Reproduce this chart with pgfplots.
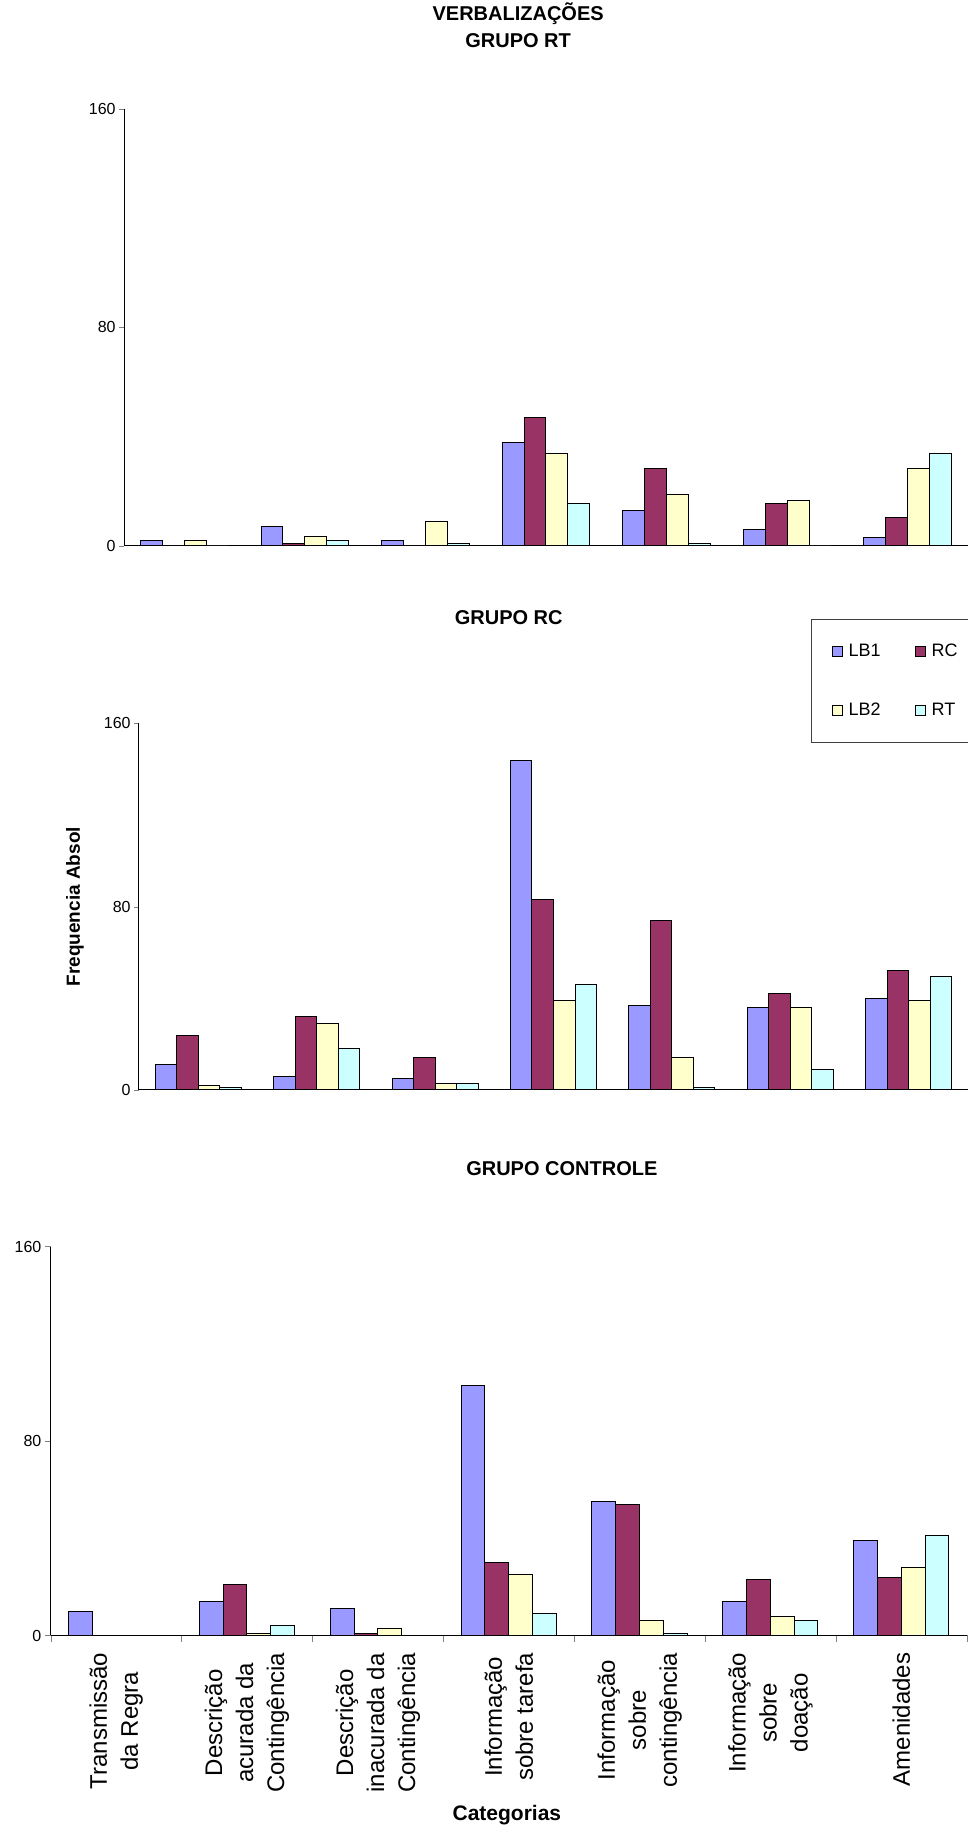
\documentclass[border=0pt]{standalone}
\usepackage{fontspec}
\setmainfont{Liberation Sans}
\usepackage{pgfplots}
\pgfplotsset{compat=1.18}
\definecolor{cLBa}{HTML}{9999FF}
\definecolor{cRC}{HTML}{993366}
\definecolor{cLBb}{HTML}{FFFFCC}
\definecolor{cRT}{HTML}{CCFFFF}
\pgfplotsset{
  base/.style={scale only axis, anchor=south west, xmin=-0.5, xmax=6.5, ymin=0, ymax=160,
    ytick={0,80,160}, yticklabels={0,80,160},
    axis x line*=bottom, axis y line*=left, axis line style={black, line width=0.5pt},
    tick align=outside, major tick length=2.5pt,
    y tick label style={font=\fontsize{8}{9.6}\selectfont, inner sep=1.5pt},
    xtick=\empty, ybar, bar width=0.1818,
    title style={anchor=center, font=\bfseries\fontsize{10}{13.4}\selectfont, align=center},
    clip=false},
  sLBa/.style={fill=cLBa, draw=black, line width=0.5pt, bar shift=-0.2727,
    legend image code/.code={\draw[fill=cLBa, draw=black, line width=0.5pt] (0pt,-2.5pt) rectangle (5pt,2.5pt);}},
  sRC/.style={fill=cRC, draw=black, line width=0.5pt, bar shift=-0.0909,
    legend image code/.code={\draw[fill=cRC, draw=black, line width=0.5pt] (0pt,-2.5pt) rectangle (5pt,2.5pt);}},
  sLBb/.style={fill=cLBb, draw=black, line width=0.5pt, bar shift=0.0909,
    legend image code/.code={\draw[fill=cLBb, draw=black, line width=0.5pt] (0pt,-2.5pt) rectangle (5pt,2.5pt);}},
  sRT/.style={fill=cRT, draw=black, line width=0.5pt, bar shift=0.2727,
    legend image code/.code={\draw[fill=cRT, draw=black, line width=0.5pt] (0pt,-2.5pt) rectangle (5pt,2.5pt);}},
}
\begin{document}
\begin{tikzpicture}
\useasboundingbox (0,0) rectangle (484pt,914pt);
% ---------- GRUPO RT ----------
\begin{axis}[base, at={(62pt,641pt)}, width=422pt, height=218.5pt,
  title={VERBALIZAÇÕES\\GRUPO RT}, title style={at={(0.467,1.1636)}}]
\addplot[sLBa] coordinates {(0,2) (1,7) (2,2) (3,38) (4,13) (5,6) (6,3)};
\addplot[sRC] coordinates {(0,0) (1,1) (2,0) (3,47) (4,28.5) (5,15.5) (6,10.5)};
\addplot[sLBb] coordinates {(0,2) (1,3.5) (2,9) (3,34) (4,19) (5,16.5) (6,28.5)};
\addplot[sRT] coordinates {(0,0) (1,2) (2,1) (3,15.5) (4,1) (5,0) (6,34)};
\end{axis}
% ---------- GRUPO RC ----------
\begin{axis}[base, at={(69.5pt,369pt)}, width=414.5pt, height=183.25pt,
  title={GRUPO RC}, title style={at={(0.446,1.255)}},
  ylabel={Frequencia Absol},
  ylabel style={at={(axis description cs:-0.0772,0.5)}, anchor=center, font=\bfseries\fontsize{9.5}{11}\selectfont},
  legend columns=2, legend cell align=left,
  legend style={at={(axis description cs:0.8106,1.285)}, anchor=north west, draw=black!75, line width=0.6pt,
    inner xsep=10pt, inner ysep=12pt, font=\fontsize{9}{10}\selectfont, row sep=22pt,
    nodes={inner sep=0pt},
    /tikz/every odd column/.append style={column sep=3pt},
    /tikz/every even column/.append style={column sep=17pt}}]
\addplot[sLBa] coordinates {(0,11) (1,6) (2,5) (3,144) (4,37) (5,36) (6,40)};
\addplot[sRC] coordinates {(0,24) (1,32) (2,14) (3,83) (4,74) (5,42) (6,52)};
\addplot[sLBb] coordinates {(0,2) (1,29) (2,3) (3,39) (4,14) (5,36) (6,39)};
\addplot[sRT] coordinates {(0,1) (1,18) (2,3) (3,46) (4,1) (5,9) (6,49.5)};
\legend{LB1,RC,LB2,RT}
\end{axis}
% ---------- GRUPO CONTROLE ----------
\begin{axis}[base, at={(25.35pt,96.25pt)}, width=458pt, height=194.4pt,
  title={GRUPO CONTROLE}, title style={at={(0.558,1.169)}},
  major tick length=3pt,
  xtick={-0.5,0.5,...,6.5}, xticklabel=\empty,
  extra x ticks={0,1,2,3,4,5,6},
  extra x tick labels={{Transmissão\\da Regra},{Descrição\\acurada da\\Contingência},{Descrição\\inacurada da\\Contingência},{Informação\\sobre tarefa},{Informação\\sobre\\contingência},{Informação\\sobre\\doação},{Amenidades}},
  extra x tick style={major tick length=0pt, xticklabel style={yshift=-8.5pt, rotate=90, anchor=east, inner sep=0pt, align=center, font=\fontsize{12}{15.5}\selectfont}},
  xlabel={Categorias},
  xlabel style={at={(axis description cs:0.498,-0.4617)}, anchor=center, font=\bfseries\fontsize{10.5}{12}\selectfont}]
\addplot[sLBa] coordinates {(0,10) (1,14) (2,11) (3,103) (4,55) (5,14) (6,39)};
\addplot[sRC] coordinates {(0,0) (1,21) (2,1) (3,30) (4,54) (5,23) (6,24)};
\addplot[sLBb] coordinates {(0,0) (1,1) (2,3) (3,25) (4,6) (5,8) (6,28)};
\addplot[sRT] coordinates {(0,0) (1,4) (2,0) (3,9) (4,1) (5,6) (6,41)};
\end{axis}
\end{tikzpicture}
\end{document}
